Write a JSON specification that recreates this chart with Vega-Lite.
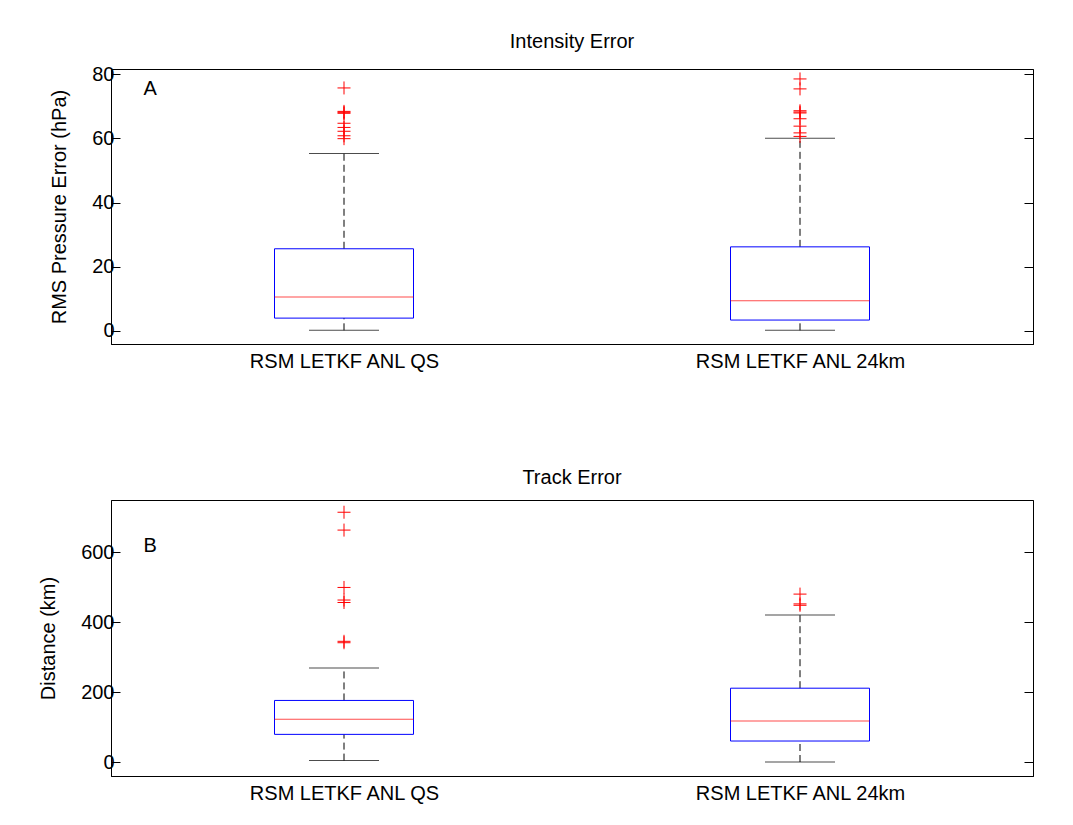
{
  "$schema": "https://vega.github.io/schema/vega-lite/v6.json",
  "padding": {"left": 38, "top": 31, "right": 5, "bottom": 5},
  "background": "white",
  "spacing": 95,
  "datasets": {
    "intensityBoxes": [
      {"pos": 1, "model": "RSM LETKF ANL QS", "lower": 0.2, "q1": 4.0, "median": 10.6, "q3": 25.6, "upper": 55.3},
      {"pos": 2, "model": "RSM LETKF ANL 24km", "lower": 0.2, "q1": 3.4, "median": 9.4, "q3": 26.2, "upper": 60.0}
    ],
    "intensityOutliers": [
      {"pos": 1, "value": 75.7}, {"pos": 1, "value": 68.4}, {"pos": 1, "value": 68.1}, {"pos": 1, "value": 67.8},
      {"pos": 1, "value": 64.7}, {"pos": 1, "value": 63.4}, {"pos": 1, "value": 62.2}, {"pos": 1, "value": 60.8},
      {"pos": 1, "value": 59.9},
      {"pos": 2, "value": 78.5}, {"pos": 2, "value": 75.4}, {"pos": 2, "value": 68.6}, {"pos": 2, "value": 68.2},
      {"pos": 2, "value": 67.9}, {"pos": 2, "value": 66.1}, {"pos": 2, "value": 63.8}, {"pos": 2, "value": 61.7},
      {"pos": 2, "value": 60.6}
    ],
    "trackBoxes": [
      {"pos": 1, "model": "RSM LETKF ANL QS", "lower": 4, "q1": 79, "median": 122, "q3": 176, "upper": 269},
      {"pos": 2, "model": "RSM LETKF ANL 24km", "lower": 0, "q1": 60, "median": 117, "q3": 211, "upper": 420}
    ],
    "trackOutliers": [
      {"pos": 1, "value": 714}, {"pos": 1, "value": 663}, {"pos": 1, "value": 499}, {"pos": 1, "value": 463},
      {"pos": 1, "value": 456}, {"pos": 1, "value": 345}, {"pos": 1, "value": 341},
      {"pos": 2, "value": 480}, {"pos": 2, "value": 452}, {"pos": 2, "value": 448}
    ],
    "panelA": [{"letter": "A", "pos": 0.575, "value": 75.3}],
    "panelB": [{"letter": "B", "pos": 0.575, "value": 617}]
  },
  "vconcat": [
    {
      "title": {"text": "Intensity Error", "offset": 12},
      "width": 922,
      "height": 275,
      "encoding": {
        "x": {
          "field": "pos", "type": "quantitative",
          "scale": {"domain": [0.5, 2.5], "nice": false, "zero": false},
          "axis": {"title": null, "values": [1, 2], "ticks": false, "grid": false, "labelPadding": 7, "labelLimit": 0,
                   "labelExpr": "datum.value == 1 ? 'RSM LETKF ANL QS' : 'RSM LETKF ANL 24km'"}
        }
      },
      "layer": [
        {
          "data": {"name": "intensityBoxes"},
          "mark": {"type": "rule", "color": "black", "strokeDash": [7, 4], "strokeWidth": 1},
          "encoding": {
            "y": {"field": "lower", "type": "quantitative", "scale": {"domain": [-4.06, 81.6], "nice": false, "zero": false}, "axis": null},
            "y2": {"field": "q1"}
          }
        },
        {
          "data": {"name": "intensityBoxes"},
          "mark": {"type": "rule", "color": "black", "strokeDash": [7, 4], "strokeWidth": 1},
          "encoding": {
            "y": {"field": "q3", "type": "quantitative", "axis": null},
            "y2": {"field": "upper"}
          }
        },
        {
          "data": {"name": "intensityBoxes"},
          "mark": {"type": "tick", "orient": "horizontal", "size": 70, "thickness": 1, "color": "black"},
          "encoding": {"y": {"field": "lower", "type": "quantitative", "axis": null}}
        },
        {
          "data": {"name": "intensityBoxes"},
          "mark": {"type": "tick", "orient": "horizontal", "size": 70, "thickness": 1, "color": "black"},
          "encoding": {"y": {"field": "upper", "type": "quantitative", "axis": null}}
        },
        {
          "data": {"name": "intensityBoxes"},
          "mark": {"type": "bar", "size": 139, "filled": false, "color": "#0000ff", "strokeWidth": 1},
          "encoding": {
            "y": {"field": "q1", "type": "quantitative",
                  "axis": {"title": "RMS Pressure Error (hPa)", "values": [0, 20, 40, 60, 80], "tickSize": -9, "labelPadding": 6, "titlePadding": 22, "grid": false}},
            "y2": {"field": "q3"}
          }
        },
        {
          "data": {"name": "intensityBoxes"},
          "mark": {"type": "tick", "orient": "horizontal", "size": 139, "thickness": 1, "color": "#ff0000"},
          "encoding": {"y": {"field": "median", "type": "quantitative", "axis": null}}
        },
        {
          "data": {"name": "intensityOutliers"},
          "mark": {"type": "point", "shape": "M-1,0L1,0M0,-1L0,1", "size": 169, "filled": false, "color": "#ff0000", "strokeWidth": 1, "opacity": 1},
          "encoding": {
            "y": {"field": "value", "type": "quantitative",
                  "axis": {"orient": "right", "title": null, "labels": false, "values": [0, 20, 40, 60, 80], "tickSize": -9, "grid": false}}
          }
        },
        {
          "data": {"name": "panelA"},
          "mark": {"type": "text", "align": "center", "baseline": "middle", "fontSize": 20, "color": "black"},
          "encoding": {
            "text": {"field": "letter", "type": "nominal"},
            "y": {"field": "value", "type": "quantitative", "axis": null}
          }
        }
      ],
      "resolve": {"axis": {"y": "independent"}}
    },
    {
      "title": {"text": "Track Error", "offset": 12},
      "width": 922,
      "height": 276,
      "encoding": {
        "x": {
          "field": "pos", "type": "quantitative",
          "scale": {"domain": [0.5, 2.5], "nice": false, "zero": false},
          "axis": {"title": null, "values": [1, 2], "ticks": false, "grid": false, "labelPadding": 7, "labelLimit": 0,
                   "labelExpr": "datum.value == 1 ? 'RSM LETKF ANL QS' : 'RSM LETKF ANL 24km'"}
        }
      },
      "layer": [
        {
          "data": {"name": "trackBoxes"},
          "mark": {"type": "rule", "color": "black", "strokeDash": [7, 4], "strokeWidth": 1},
          "encoding": {
            "y": {"field": "lower", "type": "quantitative", "scale": {"domain": [-40, 749], "nice": false, "zero": false}, "axis": null},
            "y2": {"field": "q1"}
          }
        },
        {
          "data": {"name": "trackBoxes"},
          "mark": {"type": "rule", "color": "black", "strokeDash": [7, 4], "strokeWidth": 1},
          "encoding": {
            "y": {"field": "q3", "type": "quantitative", "axis": null},
            "y2": {"field": "upper"}
          }
        },
        {
          "data": {"name": "trackBoxes"},
          "mark": {"type": "tick", "orient": "horizontal", "size": 70, "thickness": 1, "color": "black"},
          "encoding": {"y": {"field": "lower", "type": "quantitative", "axis": null}}
        },
        {
          "data": {"name": "trackBoxes"},
          "mark": {"type": "tick", "orient": "horizontal", "size": 70, "thickness": 1, "color": "black"},
          "encoding": {"y": {"field": "upper", "type": "quantitative", "axis": null}}
        },
        {
          "data": {"name": "trackBoxes"},
          "mark": {"type": "bar", "size": 139, "filled": false, "color": "#0000ff", "strokeWidth": 1},
          "encoding": {
            "y": {"field": "q1", "type": "quantitative",
                  "axis": {"title": "Distance (km)", "values": [0, 200, 400, 600], "tickSize": -9, "labelPadding": 6, "titlePadding": 22, "grid": false}},
            "y2": {"field": "q3"}
          }
        },
        {
          "data": {"name": "trackBoxes"},
          "mark": {"type": "tick", "orient": "horizontal", "size": 139, "thickness": 1, "color": "#ff0000"},
          "encoding": {"y": {"field": "median", "type": "quantitative", "axis": null}}
        },
        {
          "data": {"name": "trackOutliers"},
          "mark": {"type": "point", "shape": "M-1,0L1,0M0,-1L0,1", "size": 169, "filled": false, "color": "#ff0000", "strokeWidth": 1, "opacity": 1},
          "encoding": {
            "y": {"field": "value", "type": "quantitative",
                  "axis": {"orient": "right", "title": null, "labels": false, "values": [0, 200, 400, 600], "tickSize": -9, "grid": false}}
          }
        },
        {
          "data": {"name": "panelB"},
          "mark": {"type": "text", "align": "center", "baseline": "middle", "fontSize": 20, "color": "black"},
          "encoding": {
            "text": {"field": "letter", "type": "nominal"},
            "y": {"field": "value", "type": "quantitative", "axis": null}
          }
        }
      ],
      "resolve": {"axis": {"y": "independent"}}
    }
  ],
  "config": {
    "font": "Liberation Sans",
    "view": {"stroke": "black", "strokeWidth": 1},
    "title": {"fontSize": 20, "fontWeight": "normal", "color": "black", "font": "Liberation Sans"},
    "text": {"font": "Liberation Sans"},
    "axis": {
      "labelFontSize": 20, "titleFontSize": 20, "titleFontWeight": "normal",
      "labelColor": "black", "titleColor": "black", "domainColor": "black", "tickColor": "black",
      "labelFont": "Liberation Sans", "titleFont": "Liberation Sans"
    }
  }
}
